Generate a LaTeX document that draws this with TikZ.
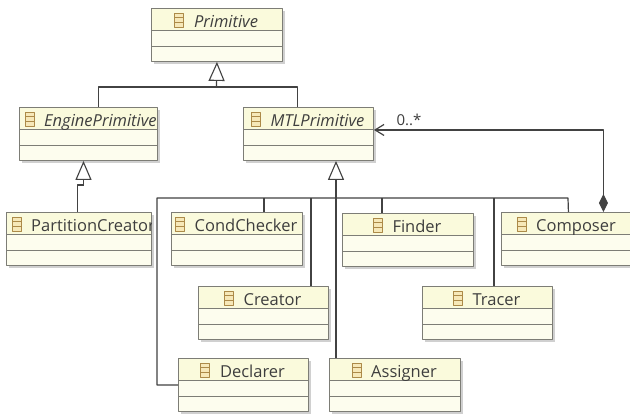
\documentclass[tikz,border=0pt]{standalone}
\usepackage{fontspec}
\setmainfont{Open Sans}
\usetikzlibrary{arrows.meta}

\definecolor{headfill}{RGB}{250,250,220}
\definecolor{bodyfill}{RGB}{253,253,238}
\definecolor{boxedge}{RGB}{125,125,118}
\definecolor{boxshade}{RGB}{208,208,208}
\definecolor{linkgray}{RGB}{66,66,66}
\definecolor{textgray}{RGB}{62,62,62}
\definecolor{iconedge}{RGB}{172,138,72}
\definecolor{iconfill}{RGB}{246,232,184}

\tikzset{
  classbox/.style={draw=boxedge,line width=.9pt,fill=bodyfill,minimum height=53pt,inner sep=0pt,
    path picture={\fill[headfill] (path picture bounding box.north west) rectangle ([yshift=-22.5pt]path picture bounding box.north east);}},
  compline/.style={draw=boxedge,line width=.8pt},
  classname/.style={inner sep=0pt,text=textgray,font=\fontsize{16.5pt}{19pt}\selectfont},
  classicon/.style={draw=iconedge,fill=iconfill,line width=.8pt},
  link/.style={draw=linkgray,line width=1.2pt},
  gen/.style={link,-{Triangle[open,length=19pt,width=16pt,line width=1.1pt]}},
}

% box: [c|l]{name}{x1}{y1}{x2}{label}
\newcommand\umlclass[6][c]{%
  \fill[boxshade] (#3+2.5,#4+2.5) rectangle (#5+2.5,#4+55.5);
  \node[classbox,minimum width={(#5-#3)*1pt},anchor=north west] (#2) at (#3,#4) {};
  \draw[compline] ([yshift=-22.5pt]#2.north west) -- ([yshift=-22.5pt]#2.north east)
    ([yshift=-38.5pt]#2.north west) -- ([yshift=-38.5pt]#2.north east);
  \begin{scope}
    \clip (#2.north west) rectangle (#2.south east);
    \ifx c#1\node[classname,anchor=base] (#2-l) at ({(#3+#5)/2},#4+19) {\hspace*{19pt}#6};
    \else\node[classname,anchor=base west] (#2-l) at (#3+6,#4+19) {\hspace*{19pt}#6};\fi
    \draw[classicon] (#2-l.base west) rectangle ++(9,-14);
    \draw[iconedge,line width=.8pt] (#2-l.base west) ++(0,-4.7) -- ++(9,0) ++(-9,-4.7) -- ++(9,0);
  \end{scope}}

\begin{document}
\begin{tikzpicture}[x=1pt,y=-1pt,line join=round]
  \clip (0,0) rectangle (630,413);
  \fill[white] (0,0) rectangle (630,413);
  % classes
  \umlclass{Primitive}{151}{8}{282}{\itshape Primitive}
  \umlclass[l]{EnginePrimitive}{19}{107}{157}{\itshape EnginePrimitive}
  \umlclass{MTLPrimitive}{243}{107}{373}{\itshape MTLPrimitive}
  \umlclass[l]{PartitionCreator}{6}{212}{151}{PartitionCreator}
  \umlclass{CondChecker}{171}{212}{302}{CondChecker}
  \umlclass{Finder}{342}{213}{473}{Finder}
  \umlclass{Composer}{501}{212}{632}{Composer}
  \umlclass{Creator}{198}{286}{328}{Creator}
  \umlclass{Tracer}{422}{286}{552}{Tracer}
  \umlclass{Declarer}{178}{358}{308}{Declarer}
  \umlclass{Assigner}{329}{358}{460}{Assigner}
  % generalizations
  \coordinate (pbus) at (216.5,87);
  \draw[gen] (pbus) -- (Primitive.south);
  \draw[link] ([xshift=10pt]EnginePrimitive.north) |- (pbus) -| ([xshift=-11pt]MTLPrimitive.north);
  \coordinate (epjog) at (83.5,185);
  \draw[link] ([xshift=-1.5pt]PartitionCreator.north) |- (epjog);
  \draw[gen] (epjog) -- (epjog |- EnginePrimitive.south);
  \coordinate (mbus) at (336,198);
  \coordinate (busL) at (157,198);
  \coordinate (busR) at (568,198);
  \draw[gen] (mbus) -- (mbus |- MTLPrimitive.south);
  \draw[link] (Declarer.west) -| (busL) -- (busR) -- ([xshift=1.5pt]Composer.north);
  \foreach \n/\x in {CondChecker/264,Creator/311,Assigner/336,Finder/382,Tracer/494}
    \draw[link] (\x,198) coordinate (drop) -- (drop |- \n.north);
  % composition
  \draw[link,{Diamond[length=18pt,width=9pt]}-{Straight Barb[length=9pt,width=11pt]}]
    ([xshift=36.5pt]Composer.north) |- ([yshift=4pt]MTLPrimitive.east);
  \node[classname,font=\fontsize{15pt}{18pt}\selectfont,anchor=base] (mult) at (409,125) {0..*};
\end{tikzpicture}
\end{document}
